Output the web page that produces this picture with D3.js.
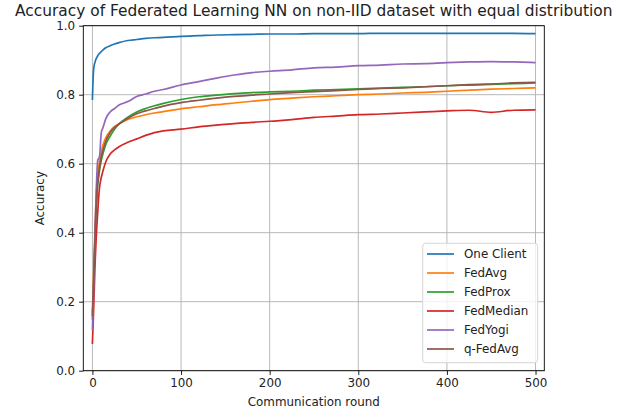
<!DOCTYPE html>
<html><head><meta charset="utf-8">
<script src="https://cdn.jsdelivr.net/npm/d3@7"></script>
<style>
html,body{margin:0;padding:0;background:#fff;}
svg{display:block;font-family:"DejaVu Sans",sans-serif;}
</style></head>
<body><svg id="chart" width="626" height="410"></svg>
<script>
const title = "Accuracy of Federated Learning NN on non-IID dataset with equal distribution";
const xLabel = "Communication round";
const yLabel = "Accuracy";
const seriesNames = ["One Client","FedAvg","FedProx","FedMedian","FedYogi","q-FedAvg"];
const colors = ["#1f77b4","#ff7f0e","#2ca02c","#d62728","#9467bd","#8c564b"];
const xTicks = [0,100,200,300,400,500];
const yTicks = [0.0,0.2,0.4,0.6,0.8,1.0];

const rounds = [0,1,2,3,4,5,6,7,8,10,12,15,20,25,30,40,50,60,70,80,100,120,140,160,180,200,225,250,275,300,325,350,375,400,425,450,475,499];

const oneClient = [0.787,0.86,0.885,0.895,0.903,0.908,0.913,0.917,0.92,0.925,0.93,0.936,0.942,0.947,0.951,0.957,0.96,0.963,0.965,0.966,0.969,0.971,0.973,0.974,0.975,0.976,0.976,0.977,0.977,0.977,0.978,0.978,0.978,0.978,0.978,0.978,0.978,0.977];
const fedAvg = [0.17,0.25,0.34,0.42,0.49,0.54,0.57,0.59,0.61,0.635,0.655,0.675,0.695,0.708,0.716,0.728,0.736,0.742,0.747,0.751,0.759,0.765,0.771,0.776,0.781,0.786,0.79,0.794,0.797,0.8,0.802,0.805,0.807,0.81,0.813,0.816,0.818,0.82];
const fedProx = [0.15,0.22,0.30,0.38,0.45,0.50,0.54,0.56,0.58,0.61,0.63,0.655,0.68,0.70,0.715,0.735,0.75,0.76,0.768,0.775,0.786,0.794,0.799,0.803,0.806,0.808,0.81,0.813,0.815,0.817,0.819,0.821,0.823,0.826,0.828,0.83,0.832,0.834];
const fedMedian = [0.08,0.15,0.23,0.31,0.37,0.42,0.46,0.50,0.53,0.56,0.58,0.605,0.628,0.64,0.649,0.662,0.672,0.682,0.69,0.695,0.70,0.707,0.712,0.716,0.72,0.723,0.728,0.734,0.738,0.742,0.744,0.747,0.75,0.753,0.755,0.749,0.755,0.756];
const fedYogi = [0.12,0.2,0.3,0.4,0.5,0.57,0.61,0.615,0.62,0.69,0.705,0.73,0.75,0.76,0.77,0.78,0.795,0.802,0.81,0.815,0.828,0.838,0.848,0.857,0.864,0.868,0.872,0.878,0.88,0.884,0.886,0.889,0.89,0.893,0.895,0.896,0.895,0.893];
const qFedAvg = [0.16,0.23,0.31,0.39,0.46,0.51,0.55,0.57,0.59,0.62,0.64,0.665,0.69,0.705,0.715,0.732,0.745,0.753,0.76,0.767,0.777,0.784,0.79,0.795,0.799,0.802,0.806,0.809,0.812,0.815,0.818,0.82,0.823,0.826,0.829,0.831,0.834,0.836];

const seriesValues = [oneClient,fedAvg,fedProx,fedMedian,fedYogi,qFedAvg];

const svg = d3.select("#chart");
const pL = 83.3, pR = 544.3, pT = 25.7, pB = 370.7;
const x = d3.scaleLinear().domain([-10.3, 509.9]).range([pL, pR]);
const y = d3.scaleLinear().domain([0, 1]).range([pB, pT]);
const fs = 11.9;

// grid
const grid = svg.append("g");
grid.selectAll("line.gx").data(xTicks).join("line")
  .attr("x1", d => x(d)).attr("x2", d => x(d)).attr("y1", pT).attr("y2", pB)
  .attr("stroke", "#b0b0b0").attr("stroke-width", 0.9);
grid.selectAll("line.gy").data(yTicks).join("line")
  .attr("x1", pL).attr("x2", pR).attr("y1", d => y(d)).attr("y2", d => y(d))
  .attr("stroke", "#b0b0b0").attr("stroke-width", 0.9);

// lines
svg.append("clipPath").attr("id","clip").append("rect")
  .attr("x", pL).attr("y", pT).attr("width", pR-pL).attr("height", pB-pT);
const line = d3.line().x((d,i) => x(rounds[i])).y(d => y(d)).curve(d3.curveMonotoneX);
svg.append("g").attr("clip-path","url(#clip)").selectAll("path").data(seriesValues).join("path")
  .attr("d", d => line(d)).attr("fill","none")
  .attr("stroke", (d,i) => colors[i]).attr("stroke-width", 1.7)
  .attr("stroke-linejoin","round").attr("stroke-linecap","square");

// axes
const xAxis = d3.axisBottom(x).tickValues(xTicks).tickFormat(d3.format("d")).tickSize(4.2).tickPadding(4);
const yAxis = d3.axisLeft(y).tickValues(yTicks).tickFormat(d3.format(".1f")).tickSize(4.2).tickPadding(4);
const gx = svg.append("g").attr("transform",`translate(0,${pB})`).call(xAxis);
const gy = svg.append("g").attr("transform",`translate(${pL},0)`).call(yAxis);
[gx,gy].forEach(g => {
  g.select(".domain").remove();
  g.selectAll("text").attr("font-size", fs).attr("font-family","DejaVu Sans").attr("fill","#222");
  g.selectAll(".tick line").attr("stroke","#000").attr("stroke-width",0.9);
});

// frame
svg.append("rect").attr("x", pL).attr("y", pT).attr("width", pR-pL).attr("height", pB-pT)
  .attr("fill","none").attr("stroke","#000").attr("stroke-width",0.9);

// title and labels
svg.append("text").attr("x",(pL+pR)/2).attr("y",15.5).attr("text-anchor","middle")
  .attr("font-size",15.4).attr("fill","#222").text(title);
svg.append("text").attr("x",(pL+pR)/2).attr("y",406).attr("text-anchor","middle")
  .attr("font-size",fs).attr("fill","#222").text(xLabel);
svg.append("text").attr("transform",`translate(44,${(pT+pB)/2}) rotate(-90)`).attr("text-anchor","middle")
  .attr("font-size",fs).attr("fill","#222").text(yLabel);

// legend
const lg = svg.append("g");
lg.append("rect").attr("x",422.7).attr("y",243.3).attr("width",115).attr("height",119.4)
  .attr("rx",3).attr("fill","#fff").attr("fill-opacity",0.8).attr("stroke","#d6d6d6").attr("stroke-width",1);
seriesNames.forEach((n,i) => {
  const yy = 254 + i*19;
  lg.append("line").attr("x1",427).attr("x2",454).attr("y1",yy).attr("y2",yy)
    .attr("stroke",colors[i]).attr("stroke-width",1.7);
  lg.append("text").attr("x",464).attr("y",yy+4.2).attr("font-size",fs).attr("fill","#222").text(n);
});
</script></body></html>
